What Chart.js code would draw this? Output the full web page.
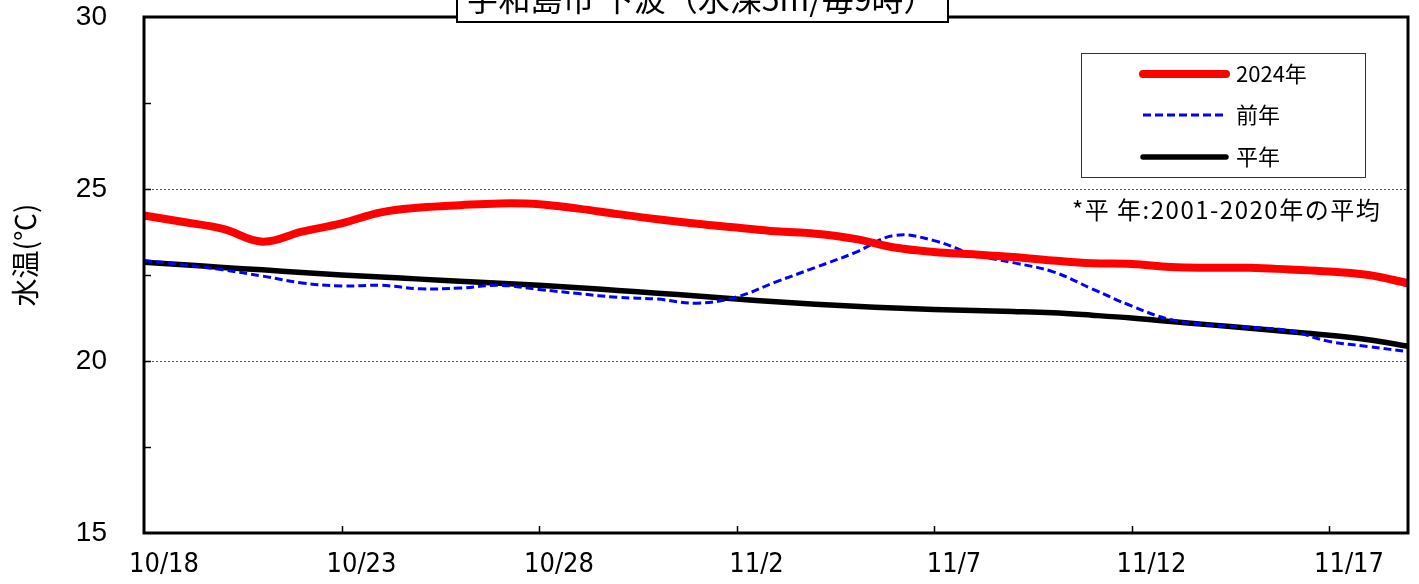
<!DOCTYPE html>
<html>
<head>
<meta charset="utf-8">
<script src="https://cdn.jsdelivr.net/npm/chart.js@4.4.0/dist/chart.umd.min.js"></script>
<style>
body { margin: 0; background: #fff; }
#wrap { width: 1419px; height: 584px; position: relative; }
</style>
</head>
<body>
<div id="wrap"><canvas id="waterChart"></canvas></div>
<script>
var dates = ['10/18', '10/19', '10/20', '10/21', '10/22', '10/23', '10/24', '10/25', '10/26', '10/27',
    '10/28', '10/29', '10/30', '10/31', '11/1', '11/2', '11/3', '11/4', '11/5', '11/6', '11/7',
    '11/8', '11/9', '11/10', '11/11', '11/12', '11/13', '11/14', '11/15', '11/16', '11/17',
    '11/18', '11/19'];
var temp2024 = [24.23, 24.04, 23.84, 23.47, 23.76, 24.0, 24.32, 24.46, 24.53, 24.58, 24.56,
    24.43, 24.27, 24.12, 23.99, 23.88, 23.77, 23.7, 23.55, 23.3, 23.17, 23.1, 23.02, 22.92,
    22.84, 22.82, 22.73, 22.71, 22.71, 22.66, 22.6, 22.5, 22.26];
var tempPrev = [22.92, 22.8, 22.65, 22.47, 22.27, 22.18, 22.2, 22.1, 22.12, 22.2, 22.08,
    21.96, 21.85, 21.8, 21.68, 21.86, 22.3, 22.72, 23.15, 23.65, 23.5, 23.1, 22.86, 22.6,
    22.1, 21.6, 21.2, 21.05, 20.98, 20.88, 20.57, 20.42, 20.27];
var tempNormal = [22.87, 22.8, 22.72, 22.65, 22.57, 22.5, 22.44, 22.38, 22.32, 22.26, 22.2,
    22.13, 22.05, 21.97, 21.89, 21.8, 21.72, 21.65, 21.59, 21.54, 21.5, 21.47, 21.44, 21.4,
    21.33, 21.25, 21.15, 21.05, 20.95, 20.85, 20.75, 20.62, 20.43];
var seriesNames = ['2024年', '前年', '平年'];
var yMin = 15, yMax = 30;
var labelEvery = 5;

var titleText = '宇和島市 下波（水深5m/毎9時）';
var axisTitle = '水温(℃)';
var noteText = '*平 年:2001-2020年の平均';

var jpFont = "'Noto Sans CJK JP', sans-serif";

// frame, inside tick marks, title box, legend box and notes
var decorations = {
    id: 'decorations',
    afterDraw: function (chart) {
        var ctx = chart.ctx;
        var a = chart.chartArea;
        var xs = chart.scales.x;
        var ys = chart.scales.y;
        ctx.save();
        ctx.strokeStyle = '#000';
        ctx.lineWidth = 1.5;
        for (var v = yMin + 2.5; v < yMax; v += 2.5) {
            var py = Math.round(ys.getPixelForValue(v)) + 0.5;
            ctx.beginPath();
            ctx.moveTo(a.left, py);
            ctx.lineTo(a.left + 7, py);
            ctx.stroke();
        }
        for (var i = labelEvery; i < dates.length - 1; i += labelEvery) {
            var px = Math.round(xs.getPixelForValue(i)) + 0.5;
            ctx.beginPath();
            ctx.moveTo(px, a.bottom);
            ctx.lineTo(px, a.bottom - 7);
            ctx.stroke();
        }
        ctx.lineWidth = 3;
        ctx.strokeRect(a.left, a.top, a.right - a.left, a.bottom - a.top);

        // title box (clipped at the top edge)
        ctx.fillStyle = '#fff';
        ctx.fillRect(457, -10, 491, 32);
        ctx.lineWidth = 2;
        ctx.strokeRect(457, -10, 491, 32);
        ctx.fillStyle = '#000';
        ctx.font = '32px ' + jpFont;
        ctx.textAlign = 'center';
        ctx.textBaseline = 'middle';
        ctx.fillText(titleText, 701, -1);

        // y axis title
        ctx.save();
        ctx.translate(25, 255);
        ctx.rotate(-Math.PI / 2);
        ctx.font = '28px ' + jpFont;
        ctx.fillText(axisTitle, 0, 0);
        ctx.restore();

        // legend
        ctx.fillStyle = '#fff';
        ctx.fillRect(1081, 53, 284, 124);
        ctx.lineWidth = 1;
        ctx.strokeStyle = '#333';
        ctx.strokeRect(1081.5, 53.5, 284, 124);
        var rows = [74, 115, 157];
        chart.data.datasets.forEach(function (ds, k) {
            ctx.beginPath();
            ctx.strokeStyle = ds.borderColor;
            ctx.lineWidth = ds.borderWidth;
            ctx.lineCap = ds.borderDash ? 'butt' : 'round';
            ctx.setLineDash(ds.borderDash || []);
            ctx.moveTo(1143, rows[k]);
            ctx.lineTo(1226, rows[k]);
            ctx.stroke();
            ctx.setLineDash([]);
            ctx.fillStyle = '#000';
            ctx.font = '22px ' + jpFont;
            ctx.textAlign = 'left';
            ctx.fillText(ds.label, 1236, rows[k]);
        });

        ctx.font = '24px ' + jpFont;
        ctx.letterSpacing = '1.5px';
        ctx.textAlign = 'left';
        ctx.fillText(noteText, 1072, 210);
        ctx.restore();
    }
};

var chartCanvas = document.getElementById('waterChart').getContext('2d');
var waterChart = new Chart(chartCanvas, {
    type: 'line',
    data: {
        labels: dates,
        datasets: [{
            label: seriesNames[0],
            data: temp2024,
            borderColor: '#ff0000',
            borderWidth: 8,
            tension: 0.4,
            pointRadius: 0,
        },
        {
            label: seriesNames[1],
            data: tempPrev,
            borderColor: '#0000ff',
            borderWidth: 3,
            borderDash: [8, 4],
            tension: 0.4,
            pointRadius: 0,
        },
        {
            label: seriesNames[2],
            data: tempNormal,
            borderColor: '#000000',
            borderWidth: 5.5,
            tension: 0.4,
            pointRadius: 0,
        }],
    },
    options: {
        responsive: true,
        maintainAspectRatio: false,
        animation: false,
        layout: { padding: { left: 0, right: 11, top: 17, bottom: 0 } },
        plugins: {
            legend: { display: false },
            tooltip: { enabled: false },
        },
        scales: {
            x: {
                offset: false,
                afterFit: function (scale) {
                    scale.height = 51;
                    scale.paddingLeft = 0;
                    scale.paddingRight = 0;
                },
                grid: { display: false, drawTicks: false },
                border: { display: false },
                ticks: {
                    autoSkip: false,
                    maxRotation: 0,
                    padding: 16,
                    labelOffset: 20,
                    color: '#000',
                    font: { family: "'Liberation Sans Narrow', 'DejaVu Sans Condensed', 'Liberation Sans'", size: 27 },
                    callback: function (val, i) {
                        return i % labelEvery === 0 && i < dates.length - 1 ? dates[i] : null;
                    },
                },
            },
            y: {
                min: yMin,
                max: yMax,
                afterFit: function (scale) {
                    scale.width = 144;
                    scale.paddingTop = 0;
                    scale.paddingBottom = 0;
                },
                grid: {
                    drawTicks: false,
                    lineWidth: 1,
                    color: function (c) {
                        return c.tick && (c.tick.value === 20 || c.tick.value === 25) ? '#555' : 'transparent';
                    },
                },
                border: { display: false, dash: [2, 2] },
                ticks: {
                    stepSize: 2.5,
                    padding: 37,
                    color: '#000',
                    font: { family: "'Liberation Sans', Arial, sans-serif", size: 28 },
                    callback: function (val) {
                        return val % 5 === 0 ? String(val) : null;
                    },
                },
            },
        },
    },
    plugins: [decorations],
});
</script>
</body>
</html>
